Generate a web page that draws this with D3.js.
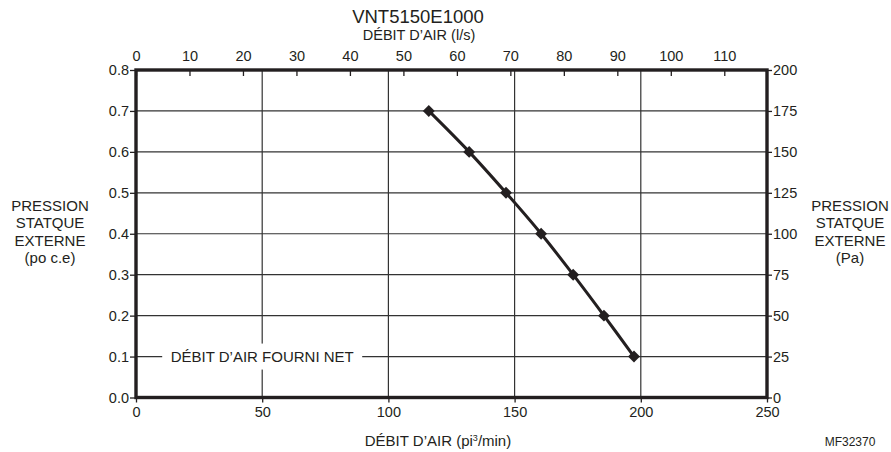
<!DOCTYPE html>
<html>
<head>
<meta charset="utf-8">
<script src="https://cdn.jsdelivr.net/npm/d3@7"></script>
<style>
  body { margin: 0; background: #fff; }
  svg text { font-family: "Liberation Sans", Arial, sans-serif; fill: #231f20; }
</style>
</head>
<body>
<svg id="chart" width="891" height="452"></svg>
<script>
// débit (pi3/min) et pression statique (po c.e)
let debit = [116, 132, 146.6, 160.5, 173.2, 185.4, 197.3];
let pression = [0.7, 0.6, 0.5, 0.4, 0.3, 0.2, 0.1];
let ticksCfm = [0, 50, 100, 150, 200, 250];
let ticksLs = [0, 10, 20, 30, 40, 50, 60, 70, 80, 90, 100, 110];
let ticksPo = [0, 0.1, 0.2, 0.3, 0.4, 0.5, 0.6, 0.7, 0.8];
let ticksPa = [0, 25, 50, 75, 100, 125, 150, 175, 200];

let couleur = "#231f20";
let svg = d3.select("#chart");
let m = {left: 136, right: 767, top: 70, bottom: 397.5};

let x = d3.scaleLinear().domain([0, 250]).range([m.left, m.right]);
let xls = d3.scaleLinear().domain([0, 250 / 2.11888]).range([m.left, m.right]);
let y = d3.scaleLinear().domain([0, 0.8]).range([m.bottom, m.top]);
let ypa = d3.scaleLinear().domain([0, 200]).range([m.bottom, m.top]);

// grille
svg.append("g").selectAll("line")
    .data(ticksPo.slice(1, -1))
    .enter().append("line")
    .attr("x1", m.left).attr("x2", m.right)
    .attr("y1", d => y(d)).attr("y2", d => y(d))
    .style("stroke", "#333").style("stroke-width", 1.2);

svg.append("g").selectAll("line")
    .data(ticksCfm.slice(1, -1))
    .enter().append("line")
    .attr("x1", d => x(d)).attr("x2", d => x(d))
    .attr("y1", m.top).attr("y2", m.bottom)
    .style("stroke", "#333").style("stroke-width", 1.2);

// étiquette avec fond blanc
let lab = svg.append("g").attr("transform", "translate(" + x(50) + "," + y(0.1) + ")");
lab.append("rect")
    .attr("x", -100).attr("y", -13).attr("width", 200).attr("height", 26)
    .style("fill", "white");
lab.append("text")
    .attr("text-anchor", "middle").attr("dy", "0.36em")
    .style("font-size", "15px")
    .text("DÉBIT D’AIR FOURNI NET");

// axes
function style(g) {
    g.select(".domain").remove();
    g.selectAll(".tick line").style("stroke", couleur).style("stroke-width", 1.3);
    g.selectAll(".tick text").style("font-size", "14.5px").style("fill", couleur)
        .style("font-family", "'Liberation Sans', Arial, sans-serif");
}

svg.append("g").attr("transform", "translate(0," + m.bottom + ")")
    .call(d3.axisBottom(x).tickValues(ticksCfm).tickSize(5).tickPadding(4))
    .call(style);

svg.append("g").attr("transform", "translate(0," + m.top + ")")
    .call(d3.axisTop(xls).tickValues(ticksLs).tickSize(6).tickPadding(3))
    .call(style)
    .call(g => g.selectAll(".tick line").attr("y2", 6));

svg.append("g").attr("transform", "translate(" + m.left + ",0)")
    .call(d3.axisLeft(y).tickValues(ticksPo).tickFormat(d3.format(".1f")).tickSize(6).tickPadding(1))
    .call(style);

svg.append("g").attr("transform", "translate(" + m.right + ",0)")
    .call(d3.axisRight(ypa).tickValues(ticksPa).tickSize(5).tickPadding(1))
    .call(style);

// cadre
svg.append("rect")
    .attr("x", m.left).attr("y", m.top)
    .attr("width", m.right - m.left).attr("height", m.bottom - m.top)
    .style("fill", "none").style("stroke", couleur).style("stroke-width", 3.4);

// courbe
let pts = debit.map((d, i) => [d, pression[i]]);
svg.append("path")
    .datum(pts)
    .attr("d", d3.line().x(d => x(d[0])).y(d => y(d[1])).curve(d3.curveCatmullRom))
    .style("fill", "none").style("stroke", couleur).style("stroke-width", 3);

svg.append("g").selectAll("path")
    .data(pts)
    .enter().append("path")
    .attr("transform", d => "translate(" + x(d[0]) + "," + y(d[1]) + ")")
    .attr("d", d3.symbol().type(d3.symbolDiamond2).size(90))
    .style("fill", couleur);

// textes
svg.append("text").attr("x", 418).attr("y", 23).attr("text-anchor", "middle")
    .style("font-size", "18.5px").text("VNT5150E1000");
svg.append("text").attr("x", 419).attr("y", 40).attr("text-anchor", "middle")
    .style("font-size", "14.5px").text("DÉBIT D’AIR (l/s)");

let tb = svg.append("text").attr("x", 438).attr("y", 446).attr("text-anchor", "middle")
    .style("font-size", "15px");
tb.append("tspan").text("DÉBIT D’AIR (pi");
tb.append("tspan").attr("dy", -5).style("font-size", "9px").text("3");
tb.append("tspan").attr("dy", 5).text("/min)");

svg.append("text").attr("x", 850).attr("y", 446).attr("text-anchor", "middle")
    .style("font-size", "12px").text("MF32370");

function bloc(cx, lignes) {
    svg.append("g").selectAll("text")
        .data(lignes)
        .enter().append("text")
        .attr("x", cx).attr("y", (d, i) => 211 + i * 17.3)
        .attr("text-anchor", "middle")
        .style("font-size", "15px")
        .text(d => d);
}
bloc(50, ["PRESSION", "STATQUE", "EXTERNE", "(po c.e)"]);
bloc(850, ["PRESSION", "STATQUE", "EXTERNE", "(Pa)"]);
</script>
</body>
</html>
